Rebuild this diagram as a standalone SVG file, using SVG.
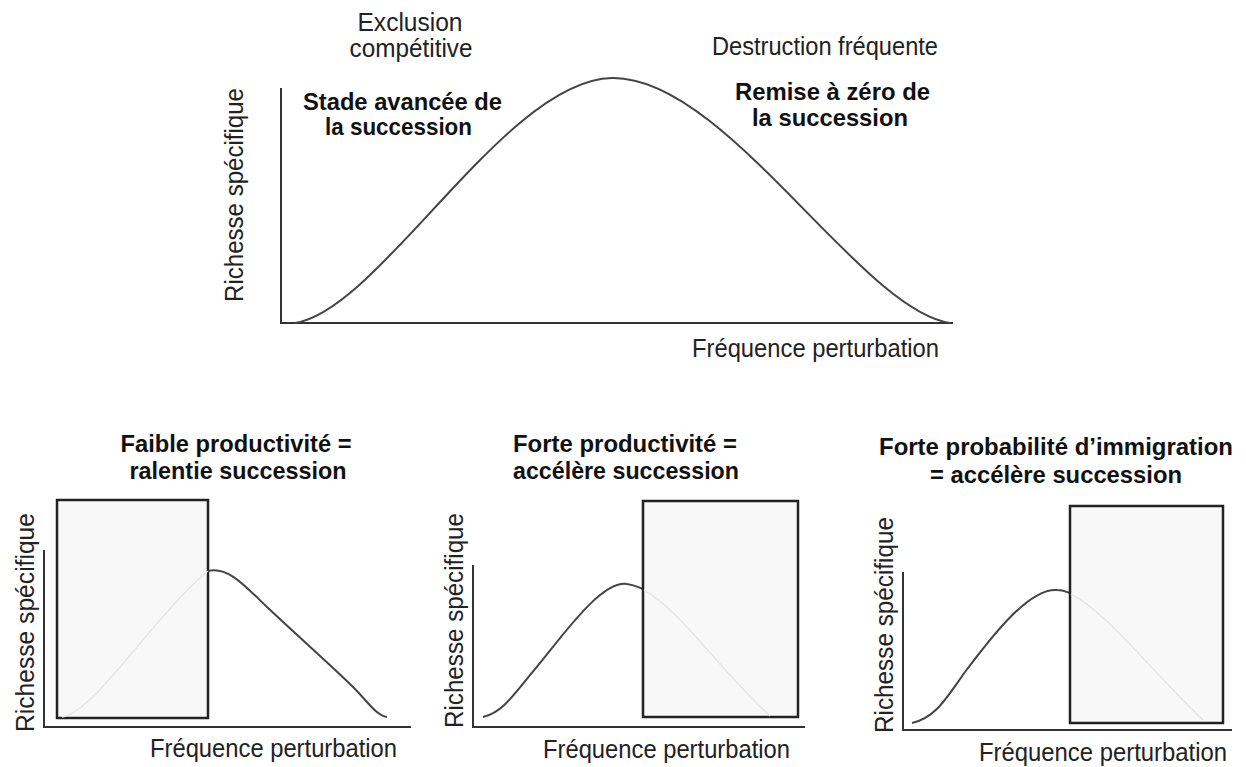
<svg xmlns="http://www.w3.org/2000/svg" width="1246" height="767" viewBox="0 0 1246 767">
<style>
.reg{font-family:"Liberation Sans",Arial,sans-serif;font-size:25px;fill:#222}
.bold{font-family:"Liberation Sans",Arial,sans-serif;font-size:24px;font-weight:bold;fill:#111}
.axis{fill:none;stroke:#333;stroke-width:2}
.curve{fill:none;stroke:#444;stroke-width:2}
.faint{fill:none;stroke:#e6e6e6;stroke-width:1.5}
.box{fill:#f8f8f8;stroke:#222;stroke-width:2.5}
</style>
<rect width="1246" height="767" fill="#fff"/>

<g id="top-chart">
<path class="axis" d="M281 88 V323 H953"/>
<path class="curve" d="M295 323 C380 310 505 80 612 78 C725 76 860 310 950 323"/>
<text class="reg" x="410" y="31" text-anchor="middle" textLength="105" lengthAdjust="spacingAndGlyphs">Exclusion</text>
<text class="reg" x="411" y="57" text-anchor="middle" textLength="123" lengthAdjust="spacingAndGlyphs">compétitive</text>
<text class="reg" x="825" y="55" text-anchor="middle" textLength="226" lengthAdjust="spacingAndGlyphs">Destruction fréquente</text>
<text class="bold" x="303" y="110" textLength="199" lengthAdjust="spacingAndGlyphs">Stade avancée de</text>
<text class="bold" x="325" y="135" textLength="147" lengthAdjust="spacingAndGlyphs">la succession</text>
<text class="bold" x="735" y="100" textLength="195" lengthAdjust="spacingAndGlyphs">Remise à zéro de</text>
<text class="bold" x="752" y="126" textLength="156" lengthAdjust="spacingAndGlyphs">la succession</text>
<text class="reg" transform="translate(243 302) rotate(-90)" textLength="214" lengthAdjust="spacingAndGlyphs">Richesse spécifique</text>
<text class="reg" x="692" y="357" textLength="247" lengthAdjust="spacingAndGlyphs">Fréquence perturbation</text>
</g>

<g id="panel-low-productivity">
<text class="bold" x="236" y="452" text-anchor="middle" textLength="231" lengthAdjust="spacingAndGlyphs">Faible productivité =</text>
<text class="bold" x="238" y="479" text-anchor="middle" textLength="217" lengthAdjust="spacingAndGlyphs">ralentie succession</text>
<path class="axis" d="M44 550 V727 H411"/>
<rect class="box" x="57" y="500" width="151" height="218"/>
<path class="faint" d="M62 717 C95 712 150 620 208 571"/>
<path class="curve" d="M208 571 C228 566 245 586 267 607 C300 638 325 660 350 684 C366 699 375 715 387 717"/>
<text class="reg" transform="translate(34 732) rotate(-90)" textLength="219" lengthAdjust="spacingAndGlyphs">Richesse spécifique</text>
<text class="reg" x="150" y="757" textLength="247" lengthAdjust="spacingAndGlyphs">Fréquence perturbation</text>
</g>

<g id="panel-high-productivity">
<text class="bold" x="625" y="452" text-anchor="middle" textLength="224" lengthAdjust="spacingAndGlyphs">Forte productivité =</text>
<text class="bold" x="626" y="479" text-anchor="middle" textLength="226" lengthAdjust="spacingAndGlyphs">accélère succession</text>
<path class="axis" d="M473 565 V727 H805"/>
<path class="curve" d="M483 717 C500 713 510 700 530 675 C560 640 600 580 627 584 C635 585 640 588 643 589"/>
<rect class="box" x="643" y="501" width="155" height="216"/>
<path class="faint" d="M644 590 C680 610 720 670 770 716"/>
<text class="reg" transform="translate(463 728) rotate(-90)" textLength="215" lengthAdjust="spacingAndGlyphs">Richesse spécifique</text>
<text class="reg" x="543" y="758" textLength="247" lengthAdjust="spacingAndGlyphs">Fréquence perturbation</text>
</g>

<g id="panel-immigration">
<text class="bold" x="1056" y="455" text-anchor="middle" textLength="354" lengthAdjust="spacingAndGlyphs">Forte probabilité d’immigration</text>
<text class="bold" x="1056" y="483" text-anchor="middle" textLength="252" lengthAdjust="spacingAndGlyphs">= accélère succession</text>
<path class="axis" d="M903 572 V730 H1232"/>
<path class="curve" d="M912 723 C935 718 945 700 965 672 C995 632 1030 588 1057 590 C1063 590 1067 592 1070 593"/>
<rect class="box" x="1070" y="506" width="153" height="217"/>
<path class="faint" d="M1071 594 C1110 615 1150 670 1203 720"/>
<text class="reg" transform="translate(893 733) rotate(-90)" textLength="216" lengthAdjust="spacingAndGlyphs">Richesse spécifique</text>
<text class="reg" x="979" y="761" textLength="248" lengthAdjust="spacingAndGlyphs">Fréquence perturbation</text>
</g>

<g id="connectors"></g>
</svg>
